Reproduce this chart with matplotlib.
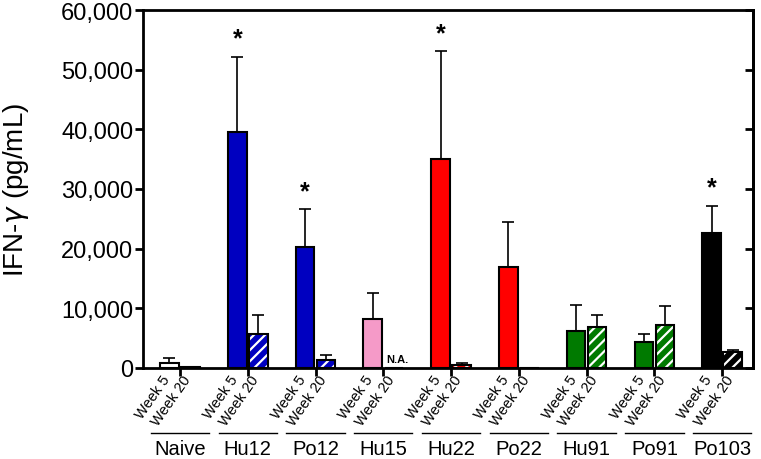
import numpy as np
import matplotlib.pyplot as plt
from matplotlib.ticker import StrMethodFormatter
import matplotlib.transforms as mtransforms

plt.rcParams['font.family'] = ['Liberation Sans', 'DejaVu Sans']
plt.rcParams['hatch.linewidth'] = 1.6

groups = ['Naive', 'Hu12', 'Po12', 'Hu15', 'Hu22', 'Po22', 'Hu91', 'Po91', 'Po103']
weeks = ['Week 5', 'Week 20']
week5 = [850, 39500, 20200, 8200, 35100, 16900, 6200, 4400, 22700]
week5_err = [850, 12700, 6400, 4350, 18000, 7600, 4350, 1350, 4500]
week20 = [100, 5650, 1300, np.nan, 550, 0, 6800, 7150, 2700]
week20_err = [0, 3300, 900, 0, 200, 0, 2100, 3250, 300]
colors = ['white', '#0000C0', '#0000C0', '#F59AC8', '#FF0000', '#FF0000',
          '#007A00', '#007A00', '#000000']
starred = ['Hu12', 'Po12', 'Hu22', 'Po103']

fig = plt.figure(figsize=(7.61, 4.60), dpi=100)
ax = fig.add_axes([0.188, 0.198, 0.8015, 0.778])

x = np.arange(len(groups))
w = 0.275
off = 0.155

w20 = np.nan_to_num(np.array(week20, dtype=float))

# week 5: solid bars
ax.bar(x - off, week5, w, color=colors, edgecolor='black', linewidth=1.5, zorder=2)
ax.errorbar(x - off, week5, yerr=[np.zeros(len(x)), week5_err], fmt='none',
            ecolor='black', elinewidth=1.2, capsize=4, capthick=1.2, zorder=1)

# week 20: hatched bars (white stripes), outline drawn on top
ax.bar(x + off, w20, w, color=colors, edgecolor='white', hatch='///',
       linewidth=0, zorder=2)
ax.bar(x + off, w20, w, fill=False, edgecolor='black', linewidth=1.5, zorder=3)
ax.errorbar(x + off, w20, yerr=[np.zeros(len(x)), week20_err], fmt='none',
            ecolor='black', elinewidth=1.2, capsize=4, capthick=1.2, zorder=1)

# significance stars
for i, g in enumerate(groups):
    if g in starred:
        ax.text(x[i] - off, week5[i] + week5_err[i] + 1000, '*', ha='center',
                va='bottom', fontsize=18, fontweight='bold')

# missing value
na_i = groups.index('Hu15')
ax.text(x[na_i] + off - w / 2 + 0.02, 700, 'N.A.', ha='left', va='bottom',
        fontsize=8, fontweight='bold')

ax.set_xlim(-0.545, 8.455)
ax.set_ylim(0, 60000)
ax.yaxis.set_major_formatter(StrMethodFormatter('{x:,.0f}'))
ax.set_yticks(np.arange(0, 60001, 10000))
ax.tick_params(axis='y', labelsize=17, length=6, width=2, direction='out', pad=1)
ax.set_ylabel('IFN-$\\gamma$ (pg/mL)', fontsize=20, labelpad=22)

# right spine with inward ticks
ry = ax.secondary_yaxis('right')
ry.set_yticks(np.arange(0, 60001, 10000))
ry.tick_params(axis='y', length=6, width=2, direction='in', labelright=False)
ry.spines['right'].set_linewidth(2)

for s in ax.spines.values():
    s.set_linewidth(2)

# group ticks and rotated week labels
ax.set_xticks(x)
ax.set_xticklabels([''] * len(x))
ax.tick_params(axis='x', which='major', length=6, width=2, direction='out')
bar_pos = np.ravel(np.column_stack([x - off + 0.05, x + off + 0.05]))
ax.set_xticks(bar_pos, minor=True)
ax.set_xticklabels(weeks * len(groups), minor=True, rotation=55, ha='right',
                   fontsize=10.5)
ax.tick_params(axis='x', which='minor', length=0, pad=3)

# group names with underlines
trans = mtransforms.blended_transform_factory(ax.transData, ax.transAxes)
for i, g in enumerate(groups):
    ax.plot([x[i] - 0.43, x[i] + 0.43], [-0.182, -0.182], color='black',
            linewidth=1, transform=trans, clip_on=False)
    ax.text(x[i], -0.2, g, ha='center', va='top', fontsize=14.5, transform=trans)

fig.savefig('out.png', dpi=100)
